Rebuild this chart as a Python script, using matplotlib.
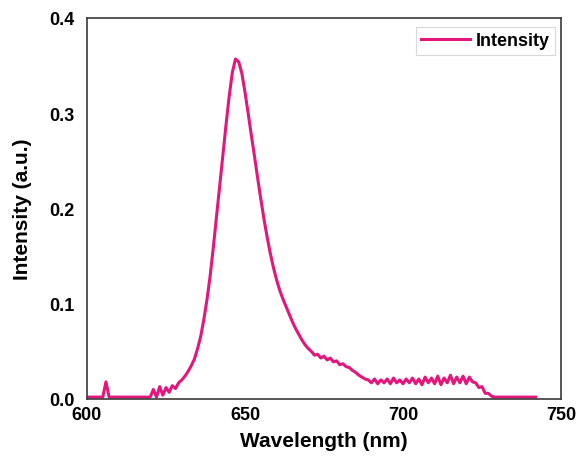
import numpy as np
import matplotlib
matplotlib.use("Agg")
import matplotlib.pyplot as plt

plt.rcParams['font.family'] = ['Liberation Sans', 'DejaVu Sans']
plt.rcParams['font.weight'] = 'bold'

# wavelength grid (nm), 1 nm steps
wavelength = np.arange(600, 743)

# intensity values (a.u.)
intensity = [
    0.002, 0.002, 0.002, 0.002, 0.002, 0.002, 0.018, 0.002, 0.002, 0.002,  # 600-609
    0.002, 0.002, 0.002, 0.002, 0.002, 0.002, 0.002, 0.002, 0.002, 0.002,  # 610-619
    0.002, 0.010, 0.002, 0.013, 0.004, 0.012, 0.007, 0.014, 0.011, 0.017,  # 620-629
    0.020, 0.024, 0.029, 0.035, 0.042, 0.053, 0.066, 0.084, 0.105, 0.130,  # 630-639
    0.160, 0.192, 0.224, 0.256, 0.288, 0.318, 0.343, 0.357, 0.354, 0.342,  # 640-649
    0.322, 0.300, 0.277, 0.255, 0.232, 0.210, 0.189, 0.170, 0.153, 0.138,  # 650-659
    0.125, 0.114, 0.105, 0.097, 0.089, 0.081, 0.074, 0.068, 0.062, 0.057,  # 660-669
    0.053, 0.050, 0.046, 0.047, 0.043, 0.045, 0.041, 0.043, 0.039, 0.040,  # 670-679
    0.036, 0.037, 0.034, 0.033, 0.030, 0.028, 0.025, 0.023, 0.021, 0.020,  # 680-689
    0.017, 0.021, 0.016, 0.020, 0.017, 0.021, 0.016, 0.022, 0.017, 0.020,  # 690-699
    0.016, 0.021, 0.017, 0.022, 0.016, 0.021, 0.015, 0.023, 0.017, 0.022,  # 700-709
    0.016, 0.024, 0.015, 0.022, 0.017, 0.025, 0.016, 0.023, 0.017, 0.024,  # 710-719
    0.016, 0.023, 0.018, 0.017, 0.012, 0.013, 0.006, 0.006, 0.003, 0.002,  # 720-729
    0.002, 0.002, 0.002, 0.002, 0.002, 0.002, 0.002, 0.002, 0.002, 0.002,  # 730-739
    0.002, 0.002, 0.002,                                                   # 740-742
]

x_ticks = [600, 650, 700, 750]
y_ticks = [0.0, 0.1, 0.2, 0.3, 0.4]

fig = plt.figure(figsize=(5.76, 4.64), dpi=100)
ax = fig.add_axes([87 / 576, 1 - 400 / 464, 474 / 576, 381 / 464])

ax.plot(wavelength, intensity, color='#e3177b', lw=2.2, label='Intensity')

ax.set_xlim(600, 750)
ax.set_ylim(0, 0.4)
ax.set_xticks(x_ticks)
ax.set_yticks(y_ticks)
ax.set_yticklabels([f'{v:.1f}' for v in y_ticks])
ax.tick_params(length=0, labelsize=13)
ax.tick_params(axis='x', pad=5)
ax.tick_params(axis='y', pad=9)
for lab in ax.get_xticklabels() + ax.get_yticklabels():
    lab.set_fontweight('bold')

for sp in ax.spines.values():
    sp.set_color('#3a3a3a')
    sp.set_linewidth(1.2)

ax.set_xlabel('Wavelength (nm)', fontsize=15, fontweight='bold', labelpad=6)
ax.set_ylabel('Intensity (a.u.)', fontsize=15, fontweight='bold', labelpad=12)

leg = ax.legend(loc='upper right', fontsize=13, frameon=True, fancybox=False,
                handlelength=2.7, handletextpad=0.3, borderpad=0.3,
                borderaxespad=0, bbox_to_anchor=(555 / 576, 1 - 28 / 464),
                bbox_transform=fig.transFigure)
leg.get_frame().set_edgecolor('#d0d0d0')
leg.get_frame().set_linewidth(0.8)
for t in leg.get_texts():
    t.set_fontweight('bold')

plt.savefig('out.png', dpi=100)
